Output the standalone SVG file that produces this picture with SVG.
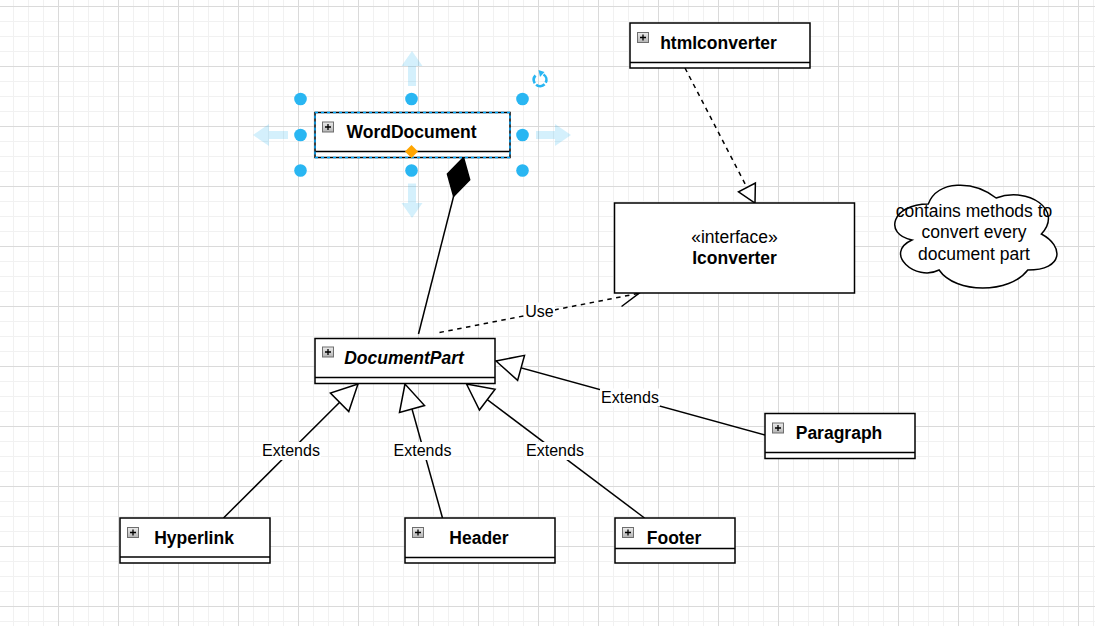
<svg xmlns="http://www.w3.org/2000/svg" xmlns:xlink="http://www.w3.org/1999/xlink" width="1095" height="626" viewBox="0 0 1095 626">
<style>
.box{fill:#fff;stroke:#000;stroke-width:1.5}
.div{stroke:#000;stroke-width:1.5}
.title{font-family:"Liberation Sans",Arial,sans-serif;font-size:17.5px;font-weight:bold;text-anchor:middle;fill:#000}
.txt{font-family:"Liberation Sans",Arial,sans-serif;font-size:17.5px;text-anchor:middle;fill:#000}
.lbl{font-family:"Liberation Sans",Arial,sans-serif;font-size:16px;text-anchor:middle;fill:#000}
.lblbg{fill:#fff}
.edge{fill:none;stroke:#000;stroke-width:1.5}
.dash{stroke-dasharray:4.5 4.5}
.handle{fill:#29b6f2}
.harrow{fill:#29b6f2;fill-opacity:0.2}
</style>
<defs>
<pattern id="grid" x="-2" y="6" width="60" height="60" patternUnits="userSpaceOnUse">
<path d="M15.5,0V60M30.5,0V60M45.5,0V60M0,15.5H60M0,30.5H60M0,45.5H60" stroke="#f1f1f1" stroke-width="1" fill="none"/>
<path d="M0.5,0V60M0,0.5H60" stroke="#dadada" stroke-width="1" fill="none"/>
</pattern>
<linearGradient id="plusGrad" x1="0" y1="0" x2="0" y2="1">
<stop offset="0" stop-color="#ececec"/>
<stop offset="1" stop-color="#b4b4b4"/>
</linearGradient>
<g id="plus">
<rect x="0.5" y="0.5" width="11" height="10" fill="url(#plusGrad)" stroke="#6e6e6e" stroke-width="1"/>
<path d="M3,5.5H9M6,2.5V8.5" stroke="#000" stroke-width="1.3" fill="none"/>
</g>
<marker id="ext" markerUnits="userSpaceOnUse" markerWidth="32" markerHeight="32" viewBox="-29 -16 32 32" refX="0" refY="0" orient="auto">
<path d="M0,0 L-26,-13 L-26,13 Z" fill="#fff" stroke="#000" stroke-width="1.5"/>
</marker>
<marker id="real" markerUnits="userSpaceOnUse" markerWidth="24" markerHeight="24" viewBox="-20 -12 24 24" refX="0" refY="0" orient="auto">
<path d="M0,0 L-17.5,-9.5 L-17.5,9.5 Z" fill="#fff" stroke="#000" stroke-width="1.5"/>
</marker>
<marker id="open" markerUnits="userSpaceOnUse" markerWidth="26" markerHeight="26" viewBox="-22 -13 26 26" refX="0" refY="0" orient="auto">
<path d="M-19.7,-9.6 L0,0 L-19.7,9.6" fill="none" stroke="#000" stroke-width="1.5"/>
</marker>
<marker id="diam" markerUnits="userSpaceOnUse" markerWidth="46" markerHeight="28" viewBox="-43 -14 46 28" refX="0" refY="0" orient="auto">
<path d="M0,0 L-20,-11.5 L-40,0 L-20,11.5 Z" fill="#000" stroke="#000" stroke-width="1.5"/>
</marker>
</defs>
<rect x="0" y="0" width="1095" height="626" fill="#fff"/>
<rect x="0" y="0" width="1095" height="626" fill="url(#grid)"/>

<g id="connectors">
<path class="edge" d="M418.5,334 L463.5,157.5" marker-end="url(#diam)"/>
<path class="edge dash" d="M685,68 L755,203" marker-end="url(#real)"/>
<path class="edge dash" d="M439.5,332.5 L639,293.3" marker-end="url(#open)"/>
<rect class="lblbg" x="524" y="302.5" width="31" height="18"/>
<text class="lbl" x="539.5" y="316.5">Use</text>
<path class="edge" d="M223.5,518 L358,384" marker-end="url(#ext)"/>
<rect class="lblbg" x="261" y="442" width="60" height="18"/>
<text class="lbl" x="291" y="456">Extends</text>
<path class="edge" d="M442.5,518 L405,384" marker-end="url(#ext)"/>
<rect class="lblbg" x="392.5" y="442" width="60" height="18"/>
<text class="lbl" x="422.5" y="456">Extends</text>
<path class="edge" d="M644.5,518 L466.5,384" marker-end="url(#ext)"/>
<rect class="lblbg" x="525" y="442" width="60" height="18"/>
<text class="lbl" x="555" y="456">Extends</text>
<path class="edge" d="M765,435 L496,361" marker-end="url(#ext)"/>
<rect class="lblbg" x="600" y="388.5" width="60" height="18"/>
<text class="lbl" x="630" y="402.5">Extends</text>
</g>

<g id="WordDocument">
<rect class="box" x="315" y="112.5" width="195" height="45"/>
<line class="div" x1="315" y1="151.5" x2="510" y2="151.5"/>
<use href="#plus" x="322" y="121.5"/>
<text class="title" x="411.5" y="138">WordDocument</text>
</g>

<g id="htmlconverter">
<rect class="box" x="630" y="23" width="180" height="45"/>
<line class="div" x1="630" y1="62.5" x2="810" y2="62.5"/>
<use href="#plus" x="637" y="32"/>
<text class="title" x="718.5" y="48.5">htmlconverter</text>
</g>

<g id="Iconverter">
<rect class="box" x="614.5" y="203" width="240" height="90"/>
<text class="txt" x="734.5" y="242.5">«interface»</text>
<text class="title" x="734.5" y="263.5">Iconverter</text>
</g>

<g id="note">
<path d="M928.25,204 C892.05,204 883,234 911.96,240 C883,253.2 915.58,282 939.11,270 C955.4,294 1009.7,294 1027.8,270 C1064,270 1064,246 1041.38,234 C1064,210 1027.8,186 996.13,198 C973.5,180 937.3,180 928.25,204 Z" fill="#fff" stroke="#000" stroke-width="1.5"/>
<text class="txt" x="974" y="216.5">contains methods to</text>
<text class="txt" x="974" y="238">convert every</text>
<text class="txt" x="974" y="259.5">document part</text>
</g>

<g id="DocumentPart">
<rect class="box" x="315" y="338.5" width="180" height="45"/>
<line class="div" x1="315" y1="377.5" x2="495" y2="377.5"/>
<use href="#plus" x="322" y="346.5"/>
<text class="title" x="404" y="363.5" font-style="italic">DocumentPart</text>
</g>

<g id="Paragraph">
<rect class="box" x="765" y="413.5" width="150" height="45"/>
<line class="div" x1="765" y1="452.5" x2="915" y2="452.5"/>
<use href="#plus" x="772" y="422.5"/>
<text class="title" x="839" y="439">Paragraph</text>
</g>

<g id="Hyperlink">
<rect class="box" x="120" y="518" width="150" height="45"/>
<line class="div" x1="120" y1="557" x2="270" y2="557"/>
<use href="#plus" x="127" y="527"/>
<text class="title" x="194" y="543.5">Hyperlink</text>
</g>

<g id="Header">
<rect class="box" x="405" y="518" width="150" height="45"/>
<line class="div" x1="405" y1="557.5" x2="555" y2="557.5"/>
<use href="#plus" x="412" y="527"/>
<text class="title" x="479" y="543.5">Header</text>
</g>

<g id="Footer">
<rect class="box" x="615" y="518" width="120" height="45"/>
<line class="div" x1="615" y1="548.5" x2="735" y2="548.5"/>
<use href="#plus" x="622" y="527"/>
<text class="title" x="674" y="543.5">Footer</text>
</g>

<g id="selection">
<rect x="315" y="112.5" width="195" height="45" fill="none" stroke="#00a8ff" stroke-width="1.5" stroke-dasharray="3 3"/>
<polygon class="harrow" points="412,51 422.5,66 416,66 416,86 408,86 408,66 401.5,66"/>
<polygon class="harrow" points="408,183.5 416,183.5 416,203 422.5,203 412,218 401.5,203 408,203"/>
<polygon class="harrow" points="253,135 269,124 269,131 288,131 288,139 269,139 269,146"/>
<polygon class="harrow" points="536,131 555,131 555,124 571,135 555,146 555,139 536,139"/>
<circle class="handle" cx="300.5" cy="99" r="6.3"/>
<circle class="handle" cx="411.5" cy="99" r="6.3"/>
<circle class="handle" cx="522.5" cy="99" r="6.3"/>
<circle class="handle" cx="300.5" cy="135" r="6.3"/>
<circle class="handle" cx="522.5" cy="135" r="6.3"/>
<circle class="handle" cx="300.5" cy="170.5" r="6.3"/>
<circle class="handle" cx="411.5" cy="170.5" r="6.3"/>
<circle class="handle" cx="522.5" cy="170.5" r="6.3"/>
<polygon points="411.5,145 418,151.5 411.5,158 405,151.5" fill="#ffa500"/>
<path d="M543.5,74.5 A6.3,6.3 0 1 1 535.5,75.5" fill="none" stroke="#29b6f2" stroke-width="2.6" stroke-dasharray="9 2"/>
<polygon points="538.5,70 544.5,72 540,77" fill="#29b6f2"/>
</g>
</svg>
